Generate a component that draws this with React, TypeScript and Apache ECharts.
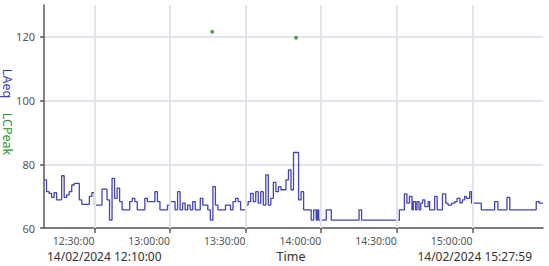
import React, { useEffect, useRef } from "react";
import * as echarts from "echarts";

// ---- data ----
const DAY = [2024, 1, 14];
const START_TIME = "12:10:00";
const END_TIME = "15:27:59";

// LAeq change points: minutes after START_TIME, value held until next point
const laeqMinutes = [
  0, 1, 2, 3, 4, 5, 7, 8, 9, 10, 11, 12, 14, 15, 18, 19, 20, 23, 25, 26, 27, 28, 29, 30, 31, 34, 35, 36,
  37, 40, 41, 44, 45, 46, 49, 50, 52, 53, 54, 55, 56, 57, 58, 59, 60, 62, 63, 65, 66, 67, 68, 69, 72,
  74, 75, 76, 77, 78, 80, 81, 82, 83, 84, 85, 86, 87, 88, 89, 90, 91, 92, 93, 94, 96, 97, 98, 99, 101,
  102, 103, 106, 107, 108, 108.5, 109, 112, 114, 125, 126, 141, 143, 144, 145, 146, 146.5, 147.4, 148,
  148.8, 149.5, 150.2, 151.1, 152.4, 153, 155, 156, 158.1, 159.4, 160.3, 161.7, 163, 163.9, 165, 166,
  166.9, 167.6, 168.9, 169.6, 173.5, 178.8, 180.1, 183.7, 184.8, 195.3, 196.4,
];
const laeqValues = [
  75.1, 71.4, 70.9, 69.6, 71.1, 68.8, 76.4, 69.6, 70.4, 71.4, 73.5, 74.0, 68.8, 67.4, 69.9, 71.1, 67.2,
  72.2, 68.8, 62.5, 75.6, 69.3, 72.5, 68.3, 65.7, 68.3, 69.3, 68.3, 65.7, 69.3, 68.3, 71.4, 68.3, 65.7,
  67.2, 68.3, 65.7, 71.4, 65.7, 67.8, 65.7, 67.2, 65.7, 68.3, 65.7, 69.3, 67.2, 65.7, 62.5, 73.0, 67.2,
  65.7, 67.2, 65.7, 68.3, 69.3, 68.3, 65.7, 67.2, 68.3, 70.9, 68.3, 71.4, 67.8, 71.4, 67.2, 76.7, 67.2,
  69.3, 74.3, 71.4, 73.0, 72.0, 75.1, 78.2, 72.0, 83.7, 68.8, 71.4, 65.7, 62.5, 65.7, 62.5, 65.7, 62.5,
  65.7, 62.5, 65.7, 62.5, 65.7, 70.7, 67.8, 69.9, 65.7, 68.3, 65.7, 68.3, 65.7, 67.8, 68.8, 66.7, 68.3,
  65.7, 69.9, 65.7, 70.7, 67.8, 67.2, 67.8, 68.3, 69.3, 67.9, 68.8, 69.9, 69.3, 71.4, 67.8, 65.7, 68.3,
  65.7, 69.6, 65.7, 68.3, 67.8,
];

const lcpeakTimes = ["13:16:45", "13:50:00"];
const lcpeakValues = [121.6, 119.7];

const xTickTimes = ["12:30:00", "13:00:00", "13:30:00", "14:00:00", "14:30:00", "15:00:00"];
const yTickLabels = [60, 80, 100, 120];

const startLabel = "14/02/2024 12:10:00";
const endLabel = "14/02/2024 15:27:59";

// ---- helpers ----
const toMs = (hms: string) => {
  const [h, m, s] = hms.split(":").map(Number);
  return new Date(DAY[0], DAY[1], DAY[2], h, m, s).getTime();
};
const pad = (n: number) => String(n).padStart(2, "0");
const fmt = (v: number) => {
  const d = new Date(v);
  return `${pad(d.getHours())}:${pad(d.getMinutes())}:${pad(d.getSeconds())}`;
};

const FONT = "'Noto Sans', 'Open Sans', sans-serif";

export default function App() {
  const ref = useRef<HTMLDivElement>(null);
  useEffect(() => {
    if (!ref.current) return;
    const chart = echarts.init(ref.current, undefined, { renderer: "svg" });
    const start = toMs(START_TIME);
    const end = toMs(END_TIME);
    const laeq: [number, number][] = laeqMinutes.map((m, i) => [start + m * 60000, laeqValues[i]]);
    laeq.push([end, laeqValues[laeqValues.length - 1]]);
    const lcpeak = lcpeakTimes.map((t, i) => [toMs(t), lcpeakValues[i]]);
    const xTicks = xTickTimes.map(toMs);
    const gridColor = "#e2e4ed";
    const axisColor = "#5a5a5a";

    chart.setOption({
      animation: false,
      backgroundColor: "#ffffff",
      textStyle: { fontFamily: FONT },
      grid: { left: 44, right: 6, top: 5, bottom: 38 },
      xAxis: {
        type: "value",
        min: start,
        max: end,
        scale: true,
        splitLine: { show: false },
        axisLine: { lineStyle: { color: axisColor, width: 1.5 } },
        axisTick: { show: true, customValues: xTicks, length: 5, lineStyle: { color: axisColor, width: 1.5 } },
        axisLabel: {
          customValues: xTicks,
          formatter: (v: number) => fmt(v),
          align: "right",
          fontSize: 10.5,
          color: "#555",
          margin: 7,
          fontFamily: FONT,
        },
      },
      yAxis: {
        type: "value",
        min: 60,
        max: 130,
        interval: 10,
        splitLine: { show: true, lineStyle: { color: gridColor, width: 2 } },
        axisLine: { show: true, lineStyle: { color: axisColor, width: 1.5 } },
        axisTick: { show: true, customValues: yTickLabels, length: 4, lineStyle: { color: axisColor, width: 1.5 } },
        axisLabel: { customValues: yTickLabels, fontSize: 11, color: "#555", margin: 9, fontFamily: FONT },
      },
      series: [
        {
          type: "line",
          data: [],
          z: 1,
          silent: true,
          markLine: {
            silent: true,
            symbol: ["none", "none"],
            label: { show: false },
            lineStyle: { color: gridColor, width: 2, type: "solid", opacity: 1 },
            emphasis: { disabled: true },
            data: xTicks.map((t) => ({ xAxis: t })),
          },
        },
        {
          name: "LAeq",
          type: "line",
          step: "end",
          data: laeq,
          symbol: "none",
          z: 3,
          lineStyle: { color: "#4444b2", width: 1.3 },
        },
        {
          name: "LCPeak",
          type: "scatter",
          data: lcpeak,
          symbolSize: 4,
          z: 4,
          itemStyle: { color: "#2a8a2a" },
        },
      ],
      graphic: [
        {
          type: "text",
          x: 7,
          y: 83.5,
          rotation: -Math.PI / 2,
          style: { text: "LAeq", fill: "#3c3cb0", fontSize: 12.5, fontFamily: FONT, align: "center", verticalAlign: "middle" },
        },
        {
          type: "text",
          x: 7,
          y: 134,
          rotation: -Math.PI / 2,
          style: { text: "LCPeak", fill: "#2e962e", fontSize: 12.5, fontFamily: FONT, align: "center", verticalAlign: "middle" },
        },
        {
          type: "text",
          x: 47,
          y: 256,
          style: { text: startLabel, fill: "#333", fontSize: 12, fontFamily: FONT, align: "left", verticalAlign: "middle" },
        },
        {
          type: "text",
          x: 291,
          y: 256,
          style: { text: "Time", fill: "#333", fontSize: 12.5, fontFamily: FONT, align: "center", verticalAlign: "middle" },
        },
        {
          type: "text",
          x: 532,
          y: 256,
          style: { text: endLabel, fill: "#333", fontSize: 12, fontFamily: FONT, align: "right", verticalAlign: "middle" },
        },
      ],
    });
    return () => chart.dispose();
  }, []);
  return <div ref={ref} style={{ width: 549, height: 266, position: "absolute", left: 0, top: 0 }} />;
}
